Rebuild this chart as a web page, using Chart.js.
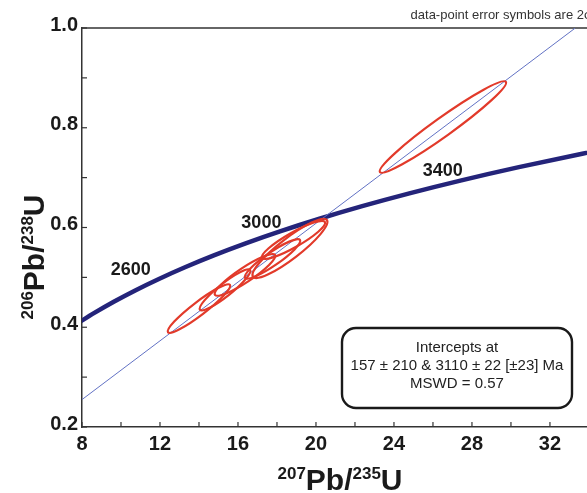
<!DOCTYPE html>
<html>
<head>
<meta charset="utf-8">
<script src="https://cdn.jsdelivr.net/npm/chart.js@4.4.0/dist/chart.umd.min.js"></script>
<style>
  html, body { margin: 0; padding: 0; background: #fff; }
  #wrap { width: 587px; height: 493px; }
</style>
</head>
<body>
<div id="wrap"><canvas id="myChart"></canvas></div>
<script>
// concordia curve, read every 100 Ma
const concordiaAge = [2200, 2300, 2400, 2500, 2600, 2700, 2800, 2900, 3000, 3100, 3200, 3300, 3400, 3500, 3600, 3700];
const concordiaX = [7.729, 8.633, 9.630, 10.730, 11.944, 13.283, 14.762, 16.393, 18.193, 20.180, 22.371, 24.790, 27.460, 30.405, 33.656, 37.242];
const concordiaY = [0.4067, 0.4287, 0.4511, 0.4738, 0.4968, 0.5202, 0.5440, 0.5681, 0.5926, 0.6175, 0.6428, 0.6685, 0.6946, 0.7211, 0.7480, 0.7753];

// discordia line (157 Ma - 3110 Ma)
const discordiaX = [8, 33.3];
const discordiaY = [0.255, 1.0];

// error ellipses: ends of the long axis, and width / length
const ellipseX1 = [12.41, 14.05, 14.82, 16.36, 16.77, 17.23, 23.28];
const ellipseY1 = [0.390, 0.435, 0.465, 0.499, 0.501, 0.539, 0.711];
const ellipseX2 = [15.59, 16.62, 17.90, 19.18, 20.56, 20.46, 29.74];
const ellipseY2 = [0.485, 0.515, 0.545, 0.575, 0.615, 0.611, 0.892];
const ellipseRatio = [0.17, 0.2, 0.2, 0.2, 0.22, 0.2, 0.12];

const ageLabels = ['2600', '3000', '3400'];
const ageLabelX = [10.5, 17.2, 26.5];
const ageLabelY = [0.515, 0.609, 0.713];

const xTicks = [8, 10, 12, 14, 16, 18, 20, 22, 24, 26, 28, 30, 32];
const yTicks = [0.2, 0.3, 0.4, 0.5, 0.6, 0.7, 0.8, 0.9, 1.0];

const boxLines = ['Intercepts at', '157 ± 210 & 3110 ± 22 [±23] Ma', 'MSWD = 0.57'];
const noteText = 'data-point error symbols are 2σ';

const FONT = '"Liberation Sans", Arial, sans-serif';

const extras = {
  id: 'extras',
  beforeDatasetsDraw(chart) {
    const { ctx, chartArea: a, scales: { x, y } } = chart;
    ctx.save();
    ctx.strokeStyle = '#333';
    ctx.lineWidth = 1.5;
    // top frame line
    ctx.beginPath();
    ctx.moveTo(a.left, a.top);
    ctx.lineTo(a.right, a.top);
    ctx.stroke();
    // inward ticks
    ctx.lineWidth = 1.2;
    xTicks.forEach(v => {
      const px = x.getPixelForValue(v);
      ctx.beginPath();
      ctx.moveTo(px, a.bottom);
      ctx.lineTo(px, a.bottom - 5);
      ctx.stroke();
    });
    yTicks.forEach(v => {
      const py = y.getPixelForValue(v);
      ctx.beginPath();
      ctx.moveTo(a.left, py);
      ctx.lineTo(a.left + 5, py);
      ctx.stroke();
    });
    ctx.restore();
  },
  afterDatasetsDraw(chart) {
    const { ctx, chartArea: a, scales: { x, y } } = chart;
    ctx.save();
    ctx.beginPath();
    ctx.rect(a.left, a.top, a.right - a.left, a.bottom - a.top);
    ctx.clip();
    ctx.strokeStyle = '#e23a2a';
    ctx.lineWidth = 2.2;
    for (let i = 0; i < ellipseX1.length; i++) {
      const x1 = x.getPixelForValue(ellipseX1[i]), y1 = y.getPixelForValue(ellipseY1[i]);
      const x2 = x.getPixelForValue(ellipseX2[i]), y2 = y.getPixelForValue(ellipseY2[i]);
      const r = Math.hypot(x2 - x1, y2 - y1) / 2;
      ctx.beginPath();
      ctx.ellipse((x1 + x2) / 2, (y1 + y2) / 2, r, r * ellipseRatio[i], Math.atan2(y2 - y1, x2 - x1), 0, Math.PI * 2);
      ctx.stroke();
    }
    ctx.restore();

    ctx.save();
    // age labels
    ctx.fillStyle = '#1a1a1a';
    ctx.font = 'bold 18px ' + FONT;
    ctx.textAlign = 'center';
    ctx.textBaseline = 'middle';
    ageLabels.forEach((t, i) => {
      ctx.fillText(t, x.getPixelForValue(ageLabelX[i]), y.getPixelForValue(ageLabelY[i]));
    });

    // intercept box
    const bx = 342, by = 328, bw = 230, bh = 80;
    ctx.fillStyle = '#fff';
    ctx.strokeStyle = '#1a1a1a';
    ctx.lineWidth = 2.4;
    ctx.beginPath();
    ctx.roundRect(bx, by, bw, bh, 14);
    ctx.fill();
    ctx.stroke();
    ctx.fillStyle = '#222';
    ctx.font = '15px ' + FONT;
    boxLines.forEach((t, i) => ctx.fillText(t, bx + bw / 2, by + 20 + i * 18));

    // note at top
    ctx.font = '13px ' + FONT;
    ctx.textAlign = 'right';
    ctx.textBaseline = 'alphabetic';
    ctx.fillStyle = '#333';
    ctx.fillText(noteText, 592, 19);

    // axis titles with superscripts
    const drawTitle = (parts) => {
      let w = 0;
      parts.forEach(p => { ctx.font = p[1]; w += ctx.measureText(p[0]).width; });
      let cx = -w / 2;
      parts.forEach(p => {
        ctx.font = p[1];
        ctx.fillText(p[0], cx, p[2]);
        cx += ctx.measureText(p[0]).width;
      });
    };
    const big = 'bold 30px ' + FONT, sup = 'bold 17px ' + FONT;
    ctx.textAlign = 'left';
    ctx.fillStyle = '#1a1a1a';
    ctx.save();
    ctx.translate(340, 490);
    drawTitle([['207', sup, -11], ['Pb/', big, 0], ['235', sup, -11], ['U', big, 0]]);
    ctx.restore();
    ctx.save();
    ctx.translate(44, 257);
    ctx.rotate(-Math.PI / 2);
    drawTitle([['206', sup, -11], ['Pb/', big, 0], ['238', sup, -11], ['U', big, 0]]);
    ctx.restore();
    ctx.restore();
  }
};

const ctx = document.getElementById('myChart');

const myChart = new Chart(ctx, {
  type: 'scatter',
  data: {
    datasets: [
      {
        label: 'discordia',
        data: discordiaX.map((v, i) => ({ x: v, y: discordiaY[i] })),
        showLine: true,
        borderColor: '#6272c4',
        borderWidth: 1,
        pointRadius: 0
      },
      {
        label: 'concordia',
        data: concordiaX.map((v, i) => ({ x: v, y: concordiaY[i] })),
        showLine: true,
        borderColor: '#24247a',
        borderWidth: 4.5,
        pointRadius: 0,
        cubicInterpolationMode: 'monotone'
      }
    ]
  },
  options: {
    responsive: true,
    maintainAspectRatio: false,
    animation: false,
    layout: { padding: { top: 28, right: 0, left: 0, bottom: 0 } },
    plugins: { legend: { display: false }, tooltip: { enabled: false } },
    scales: {
      x: {
        type: 'linear',
        min: 8,
        max: 33.9,
        afterBuildTicks: s => { s.ticks = xTicks.map(v => ({ value: v })); },
        afterFit: s => { s.height = 66; },
        grid: { display: false, drawTicks: false },
        border: { color: '#333', width: 1.5 },
        ticks: {
          padding: 5,
          maxRotation: 0,
          autoSkip: false,
          color: '#1a1a1a',
          font: { family: FONT, size: 20, weight: 'bold' },
          callback: v => (v % 4 === 0 ? String(v) : '')
        }
      },
      y: {
        type: 'linear',
        min: 0.2,
        max: 1.0,
        afterBuildTicks: s => { s.ticks = yTicks.map(v => ({ value: v })); },
        afterFit: s => { s.width = 82; },
        grid: { display: false, drawTicks: false },
        border: { color: '#333', width: 1.5 },
        ticks: {
          padding: 4,
          labelOffset: -3,
          autoSkip: false,
          color: '#1a1a1a',
          font: { family: FONT, size: 20, weight: 'bold' },
          callback: v => (Math.round(v * 10) % 2 === 0 ? v.toFixed(1) : '')
        }
      }
    }
  },
  plugins: [extras]
});
</script>
</body>
</html>
